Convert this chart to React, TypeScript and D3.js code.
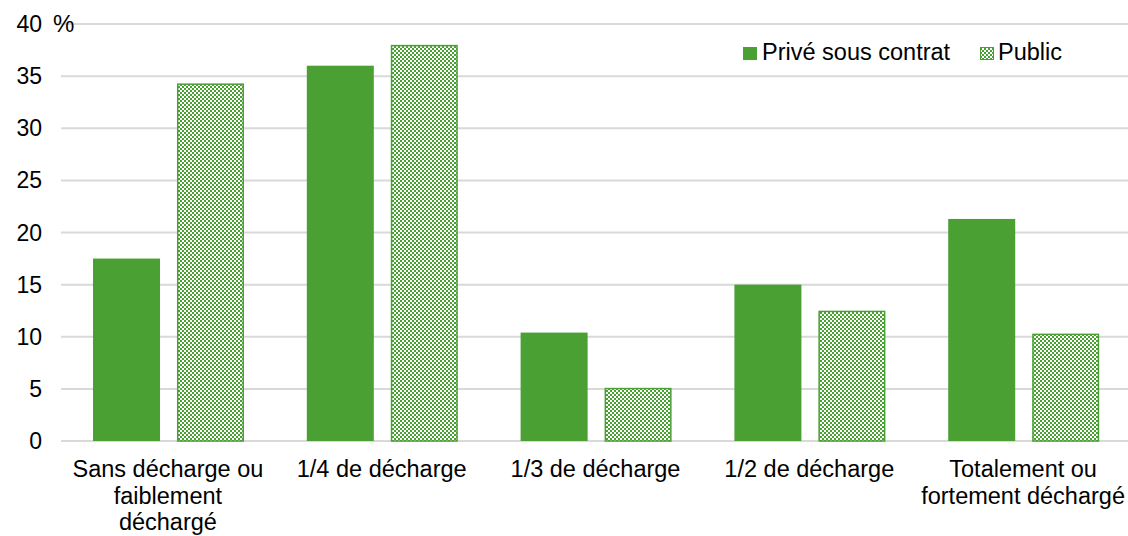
import React from "react";
import * as d3 from "d3";

const categories: string[][] = [
  ["Sans décharge ou", "faiblement", "déchargé"],
  ["1/4 de décharge"],
  ["1/3 de décharge"],
  ["1/2 de décharge"],
  ["Totalement ou", "fortement déchargé"],
];
const seriesNames = ["Privé sous contrat", "Public"];
const priveValues = [17.5, 36.0, 10.4, 15.0, 21.3];
const publicValues = [34.3, 38.0, 5.1, 12.5, 10.3];
const yTicks = [0, 5, 10, 15, 20, 25, 30, 35, 40];

const W = 1128;
const H = 536;
const GREEN = "#4aa033";
const FONT = "'Liberation Sans', Arial, sans-serif";
const FS = 23.5;

export default function App() {
  const keys = categories.map((_, i) => String(i));
  const x0 = d3.scaleBand<string>().domain(keys).range([61, 1130]).padding(0);
  const x1 = d3
    .scaleBand<string>()
    .domain(seriesNames)
    .range([32, 183])
    .paddingInner(0.202)
    .paddingOuter(0);
  const y = d3.scaleLinear().domain([0, 40]).range([441, 24]);
  const series = [priveValues, publicValues];

  return (
    <svg
      width={W}
      height={H}
      style={{ position: "absolute", left: 0, top: 0 }}
      fontFamily={FONT}
    >
      <defs>
        <pattern id="checker" width={4} height={4} patternUnits="userSpaceOnUse">
          <rect x={0} y={0} width={4} height={4} fill="#ffffff" />
          <rect x={0} y={0} width={2} height={2} fill={GREEN} />
          <rect x={2} y={2} width={2} height={2} fill={GREEN} />
        </pattern>
      </defs>
      <rect x={0} y={0} width={W} height={H} fill="#ffffff" />
      {yTicks.map((t) => (
        <g key={t}>
          <line x1={61} x2={1128} y1={y(t)} y2={y(t)} stroke="#d9d9d9" strokeWidth={2} />
          <text
            x={42}
            y={y(t) + 8}
            textAnchor="end"
            fontSize={23}
            fill="#000"
          >
            {t}
          </text>
        </g>
      ))}
      <text x={53} y={32} fontSize={24} fill="#000">
        %
      </text>
      {categories.map((_, i) =>
        series.map((vals, s) => {
          const x = (x0(String(i)) as number) + (x1(seriesNames[s]) as number);
          const bw = x1.bandwidth();
          const yTop = y(vals[i]);
          const h = y(0) - yTop;
          return s === 0 ? (
            <rect key={`${i}-${s}`} x={x} y={yTop} width={bw} height={h} fill={GREEN} />
          ) : (
            <rect
              key={`${i}-${s}`}
              x={x + 0.75}
              y={yTop + 0.75}
              width={bw - 1.5}
              height={h - 0.75}
              fill="url(#checker)"
              stroke={GREEN}
              strokeWidth={1.5}
            />
          );
        })
      )}
      {categories.map((lines, i) => {
        const cx = (x0(String(i)) as number) + x0.bandwidth() / 2;
        return (
          <text key={i} textAnchor="middle" fontSize={FS} fill="#000">
            {lines.map((l, j) => (
              <tspan key={j} x={cx} y={477 + j * 26.5}>
                {l}
              </tspan>
            ))}
          </text>
        );
      })}
      <g>
        <rect x={743} y={47} width={14} height={13} fill={GREEN} />
        <text x={762} y={60} fontSize={FS} fill="#000">
          {seriesNames[0]}
        </text>
        <rect
          x={980.5}
          y={47.5}
          width={13}
          height={12}
          fill="url(#checker)"
          stroke={GREEN}
          strokeWidth={1}
        />
        <text x={998} y={60} fontSize={FS} fill="#000">
          {seriesNames[1]}
        </text>
      </g>
    </svg>
  );
}
